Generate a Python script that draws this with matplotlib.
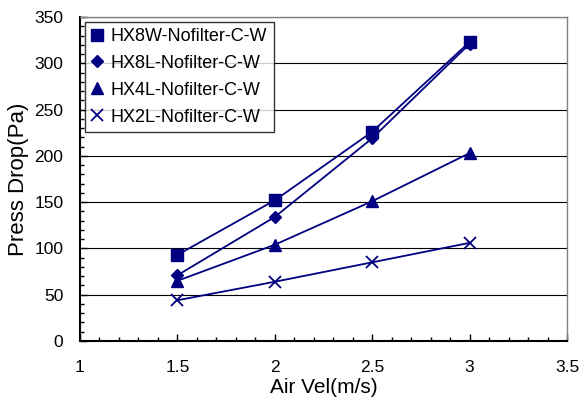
import matplotlib
matplotlib.use("Agg")
import matplotlib.pyplot as plt
from matplotlib.ticker import MultipleLocator

plt.rcParams['font.family'] = ['Liberation Sans', 'DejaVu Sans']

air_vel = [1.5, 2.0, 2.5, 3.0]
hx8w = [93, 152, 226, 323]
hx8l = [71, 134, 219, 321]
hx4l = [65, 104, 151, 203]
hx2l = [44, 64, 85, 106]

navy = '#000080'

fig = plt.figure(figsize=(5.82, 4.04), dpi=100)
ax = fig.add_axes([80/582, 1 - 341/404, 487/582, 324/404])

ax.plot(air_vel, hx8w, color=navy, lw=1.3, marker='s', ms=8, label='HX8W-Nofilter-C-W')
ax.plot(air_vel, hx8l, color=navy, lw=1.3, marker='D', ms=6.5, label='HX8L-Nofilter-C-W')
ax.plot(air_vel, hx4l, color=navy, lw=1.3, marker='^', ms=8.5, label='HX4L-Nofilter-C-W')
ax.plot(air_vel, hx2l, color=navy, lw=1.3, marker='x', ms=9, mew=1.3, label='HX2L-Nofilter-C-W')

ax.set_xlim(1, 3.5)
ax.set_ylim(0, 350)
ax.xaxis.set_minor_locator(MultipleLocator(0.1))
ax.yaxis.set_major_locator(MultipleLocator(50))
ax.yaxis.set_minor_locator(MultipleLocator(10))
ax.set_xticks([1, 1.5, 2, 2.5, 3, 3.5])
ax.set_xticklabels(['1', '1.5', '2', '2.5', '3', '3.5'])
ax.tick_params(which='both', direction='in', labelsize=12.5, top=False, right=False)
ax.tick_params(which='major', length=5, width=1)
ax.tick_params(which='minor', length=3, width=1)
ax.tick_params(axis='x', pad=14)
ax.tick_params(axis='y', pad=12)
ax.yaxis.grid(True, which='major', color='black', lw=0.8)
ax.set_axisbelow(True)

for s in ['top', 'right']:
    ax.spines[s].set_color('#808080')
    ax.spines[s].set_linewidth(1)
for s in ['left', 'bottom']:
    ax.spines[s].set_color('black')
    ax.spines[s].set_linewidth(1.5)

ax.set_xlabel('Air Vel(m/s)', fontsize=15, labelpad=2)
ax.set_ylabel('Press Drop(Pa)', fontsize=16, labelpad=4)

leg = ax.legend(loc='upper left', bbox_to_anchor=(0.0, 1.0), fontsize=13,
                frameon=True, fancybox=False, edgecolor='black',
                borderpad=0.35, handlelength=0.7, handletextpad=0.4,
                labelspacing=0.55, borderaxespad=0.25, markerscale=1.0)
leg.get_frame().set_linewidth(1)
for h in leg.get_lines():
    h.set_linestyle('none')

fig.savefig('out.png', dpi=100)
